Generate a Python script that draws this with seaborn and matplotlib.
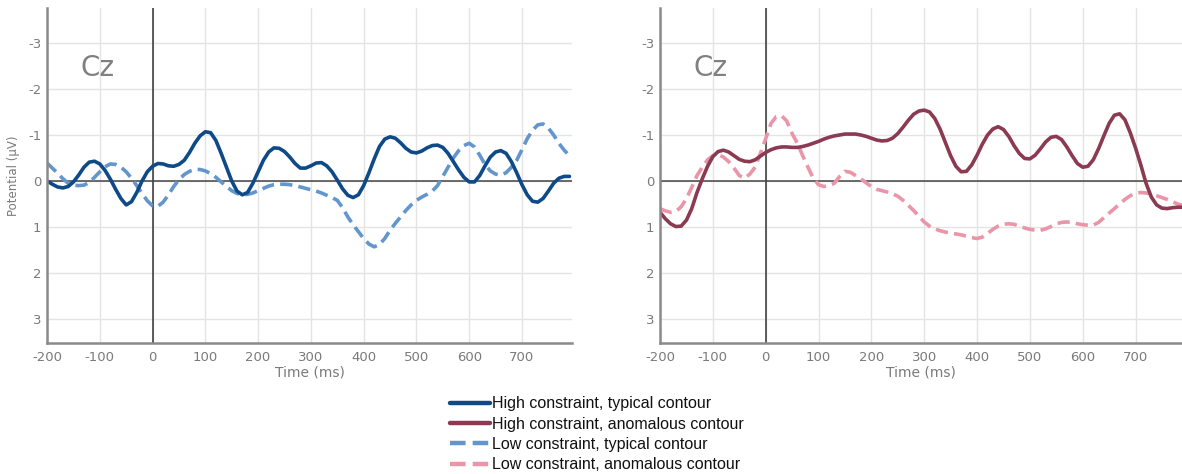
import numpy as np
import pandas as pd
import matplotlib
matplotlib.use("Agg")
import matplotlib.pyplot as plt
from matplotlib.lines import Line2D
import seaborn as sns

# ---- data (µV, every 10 ms from -200 to 790) ----
time_ms = list(range(-200, 791, 10))

high_typical = [
    0.0, 0.07, 0.13, 0.15, 0.12, 0.02, -0.13, -0.3, -0.41, -0.43,
    -0.37, -0.23, -0.04, 0.18, 0.38, 0.52, 0.45, 0.25, 0.0, -0.2,
    -0.32, -0.38, -0.37, -0.33, -0.32, -0.36, -0.45, -0.62, -0.82, -0.98,
    -1.07, -1.05, -0.88, -0.6, -0.3, 0.0, 0.22, 0.3, 0.25, 0.05,
    -0.2, -0.45, -0.63, -0.72, -0.71, -0.64, -0.52, -0.38, -0.28, -0.28,
    -0.33, -0.39, -0.4, -0.33, -0.2, -0.02, 0.17, 0.31, 0.36, 0.3,
    0.1, -0.18, -0.48, -0.75, -0.91, -0.96, -0.93, -0.83, -0.71, -0.63,
    -0.61, -0.65, -0.72, -0.77, -0.78, -0.73, -0.6, -0.42, -0.24, -0.08,
    0.02, 0.02, -0.12, -0.33, -0.52, -0.63, -0.66, -0.6, -0.42, -0.18,
    0.08, 0.3, 0.44, 0.46, 0.38, 0.22, 0.05, -0.06, -0.1, -0.1]

low_typical = [
    -0.39, -0.28, -0.17, -0.05, 0.05, 0.09, 0.1, 0.09, 0.03, -0.08,
    -0.2, -0.31, -0.37, -0.36, -0.3, -0.2, -0.06, 0.1, 0.27, 0.43,
    0.54, 0.55, 0.46, 0.3, 0.12, -0.03, -0.14, -0.21, -0.25, -0.25,
    -0.22, -0.16, -0.08, 0.02, 0.12, 0.21, 0.27, 0.3, 0.29, 0.26,
    0.21, 0.16, 0.11, 0.08, 0.07, 0.07, 0.08, 0.1, 0.13, 0.16,
    0.19, 0.22, 0.26, 0.31, 0.36, 0.42, 0.58, 0.78, 0.95, 1.1,
    1.25, 1.37, 1.43, 1.38, 1.25, 1.07, 0.92, 0.78, 0.64, 0.52,
    0.42, 0.35, 0.29, 0.22, 0.1, -0.1, -0.3, -0.5, -0.66, -0.77,
    -0.82, -0.74, -0.56, -0.36, -0.22, -0.15, -0.13, -0.18, -0.3, -0.45,
    -0.68, -0.92, -1.1, -1.22, -1.24, -1.15, -1.0, -0.82, -0.67, -0.55]

high_anomalous = [
    0.68, 0.82, 0.93, 0.99, 0.98, 0.85, 0.6, 0.25, -0.05, -0.32,
    -0.53, -0.64, -0.67, -0.63, -0.55, -0.47, -0.43, -0.42, -0.46, -0.54,
    -0.62, -0.68, -0.72, -0.74, -0.74, -0.73, -0.73, -0.75, -0.78, -0.82,
    -0.86, -0.91, -0.95, -0.98, -1.0, -1.02, -1.02, -1.02, -1.0, -0.97,
    -0.93, -0.89, -0.87, -0.88, -0.93, -1.03, -1.17, -1.32, -1.45, -1.52,
    -1.54, -1.5, -1.36, -1.13, -0.84, -0.55, -0.32, -0.2, -0.21, -0.35,
    -0.56, -0.8, -1.0, -1.13, -1.18, -1.12, -0.97, -0.77, -0.6, -0.49,
    -0.48, -0.56, -0.7, -0.85, -0.95, -0.97, -0.9, -0.74, -0.55, -0.38,
    -0.3, -0.32, -0.46, -0.7, -0.98, -1.25, -1.43, -1.46, -1.33, -1.05,
    -0.72, -0.35, 0.05, 0.35, 0.52, 0.59, 0.6, 0.58, 0.57, 0.57]

low_anomalous = [
    0.6, 0.65, 0.68, 0.66, 0.56, 0.38, 0.14, -0.12, -0.3, -0.46,
    -0.55, -0.57, -0.52, -0.42, -0.28, -0.12, -0.06, -0.15, -0.3, -0.6,
    -0.92, -1.25, -1.4, -1.42, -1.3, -1.03, -0.82, -0.55, -0.3, -0.06,
    0.08, 0.12, 0.1, 0.05, -0.1, -0.21, -0.19, -0.12, -0.05, 0.04,
    0.12, 0.18, 0.21, 0.24, 0.28, 0.33, 0.42, 0.53, 0.64, 0.77,
    0.89, 0.98, 1.04, 1.08, 1.11, 1.13, 1.15, 1.17, 1.2, 1.23,
    1.25, 1.22, 1.14, 1.05, 0.98, 0.94, 0.93, 0.94, 0.98, 1.02,
    1.05, 1.07, 1.07, 1.04, 0.99, 0.93, 0.9, 0.89, 0.9, 0.93,
    0.95, 0.96, 0.96, 0.9, 0.8, 0.7, 0.6, 0.5, 0.4, 0.32,
    0.27, 0.25, 0.26, 0.28, 0.32, 0.36, 0.4, 0.45, 0.5, 0.53]

x_ticks = [-200, -100, 0, 100, 200, 300, 400, 500, 600, 700]
y_ticks = [-3, -2, -1, 0, 1, 2, 3]
labels = ["High constraint, typical contour",
          "High constraint, anomalous contour",
          "Low constraint, typical contour",
          "Low constraint, anomalous contour"]

# ---- style ----
C_HT = "#0f4a88"
C_HA = "#8b3a52"
C_LT = "#6396cc"
C_LA = "#ea95a8"
GRAY = "#7a7a7a"

sns.set_theme(style="white")
plt.rcParams["font.family"] = ["DejaVu Sans"]
plt.rcParams["axes.unicode_minus"] = False

fig = plt.figure(figsize=(11.82, 4.74), dpi=100)
ax1 = fig.add_axes([0.0398, 0.2764, 0.4442, 0.7068])
ax2 = fig.add_axes([0.5584, 0.2764, 0.4416, 0.7068])

df = pd.DataFrame({"time": time_ms, "ht": high_typical, "lt": low_typical,
                   "ha": high_anomalous, "la": low_anomalous})

LW = 2.6
DASH = (3.4, 1.7)

def style_axis(ax, xmax, ylabel):
    ax.set_xlim(-200, xmax)
    ax.set_ylim(3.52, -3.76)
    ax.set_xticks(x_ticks)
    ax.set_yticks(y_ticks)
    ax.grid(True, color="#e4e4e4", linewidth=1.0)
    ax.set_axisbelow(True)
    for s in ["top", "right"]:
        ax.spines[s].set_visible(False)
    for s in ["left", "bottom"]:
        ax.spines[s].set_color("#8a8a8a")
        ax.spines[s].set_linewidth(1.8)
    ax.tick_params(axis="both", direction="in", length=4, width=1.2,
                   colors="#8a8a8a", labelcolor=GRAY, labelsize=9.5, pad=4)
    ax.tick_params(axis="x", pad=6)
    ax.axvline(0, color="#333333", linewidth=1.1, zorder=1.5)
    ax.axhline(0, color="#444444", linewidth=1.1, zorder=1.5)
    ax.set_xlabel("Time (ms)", color=GRAY, fontsize=10, labelpad=1)
    if ylabel:
        ax.set_ylabel("Potential (μV)", color=GRAY, fontsize=8.5, labelpad=6)
    else:
        ax.set_ylabel("")
    ax.text(-137, -2.45, "Cz", color="#808080", fontsize=20, va="center", ha="left")

# left panel
sns.lineplot(data=df, x="time", y="lt", ax=ax1, color=C_LT, linewidth=LW)
ax1.lines[-1].set_dashes(DASH)
sns.lineplot(data=df, x="time", y="ht", ax=ax1, color=C_HT, linewidth=LW)
style_axis(ax1, 795, True)

# right panel
sns.lineplot(data=df, x="time", y="la", ax=ax2, color=C_LA, linewidth=LW)
ax2.lines[-1].set_dashes(DASH)
sns.lineplot(data=df, x="time", y="ha", ax=ax2, color=C_HA, linewidth=LW)
style_axis(ax2, 788, False)

for ax in (ax1, ax2):
    for ln in ax.lines:
        ln.set_solid_capstyle("round")
        ln.set_solid_joinstyle("round")
        ln.set_dash_capstyle("butt")

# legend
handles = [Line2D([0], [0], color=C_HT, lw=3.2),
           Line2D([0], [0], color=C_HA, lw=3.2),
           Line2D([0], [0], color=C_LT, lw=3.2, dashes=(3.5, 1.6)),
           Line2D([0], [0], color=C_LA, lw=3.2, dashes=(3.5, 1.6))]
leg = fig.legend(handles, labels, loc="upper center",
                 bbox_to_anchor=(597 / 1182, 1 - 382 / 474), frameon=False,
                 handlelength=2.5, handletextpad=0.15, labelspacing=0.33,
                 prop={"family": "Liberation Sans", "size": 11.5})
for t in leg.get_texts():
    t.set_color("#111111")

fig.savefig("out.png", dpi=100)
